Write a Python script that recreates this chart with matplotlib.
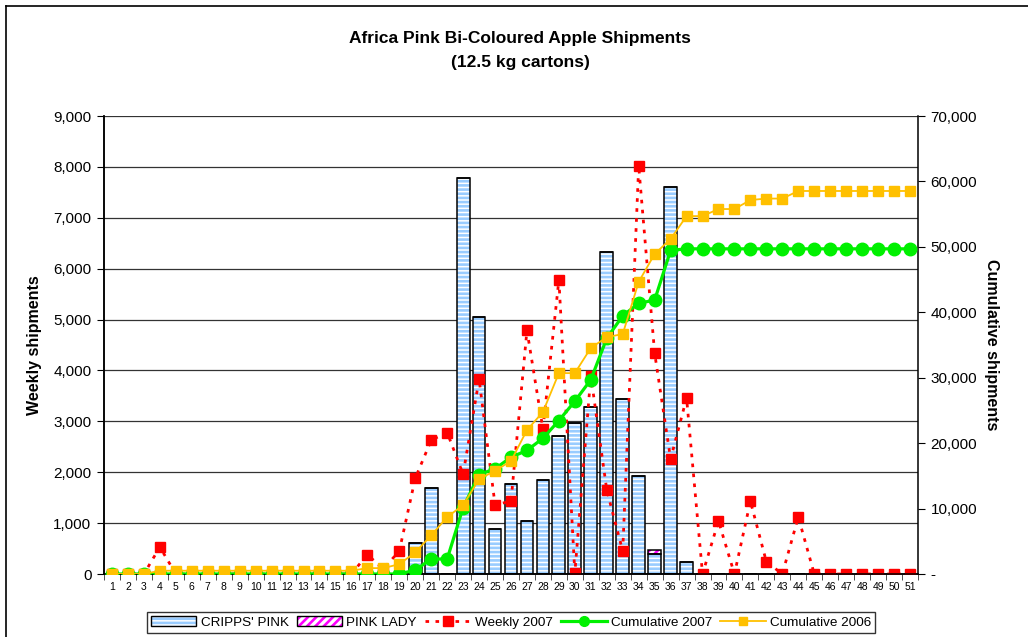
import matplotlib
matplotlib.use("Agg")
import matplotlib.pyplot as plt
from matplotlib.patches import Rectangle
from matplotlib.lines import Line2D
from matplotlib.ticker import FuncFormatter, MultipleLocator

plt.rcParams["font.family"] = ["Liberation Sans", "DejaVu Sans"]

# ---------------------------------------------------------
# data
# ---------------------------------------------------------
weeks = list(range(1, 52))

cripps_pink = [0] * 19 + [600, 1690, 0, 7780, 5050, 880, 1770, 1040, 1850, 2710,
                          2960, 3280, 6330, 3440, 1920, 400, 7600, 240] + [0] * 14
pink_lady = [0] * 34 + [80] + [0] * 16

weekly_2007 = [0, 0, 0, 530, 0, 0, 0, 0, 0, 0, 0, 0, 0, 0, 0, 0, 380, 100, 450,
               1880, 2630, 2780, 1960, 3830, 1360, 1430, 4790, 2850, 5780, 20,
               3900, 1650, 450, 8020, 4340, 2260, 3460, 0, 1040, 0, 1430, 240, 0,
               1120, 0, 0, 0, 0, 0, 0, 0]

cum_2007 = [0] * 19 + [600, 2290, 2290, 10150, 15200, 16080, 17850, 18890, 20740,
                       23450, 26410, 29690, 36020, 39460, 41380, 41860, 49460] + [49700] * 15

cum_2006 = [0, 0, 0, 500, 500, 500, 500, 500, 500, 500, 500, 500, 500, 500, 500, 500,
            900, 900, 1500, 3300, 5900, 8700, 10540, 14500, 15780, 17260, 22000,
            24760, 30700, 30700, 34550, 36200, 36670, 44650, 48900, 51200, 54700,
            54700, 55780, 55780, 57160, 57380, 57380, 58540, 58540, 58540, 58540,
            58540, 58540, 58540, 58540]

STRIPE_BLUE = "#99CCFF"
RED = "#FF0000"
GREEN = "#00F000"
GOLD = "#FFC000"

fig = plt.figure(figsize=(10.28, 6.37), dpi=100)
ax = fig.add_axes([104 / 1028, 63 / 637, 814 / 1028, 458 / 637])
ax2 = ax.twinx()

# --- bars: striped fill, then black outline on top ---
plt.rcParams["hatch.linewidth"] = 1.9
ax.bar(weeks, cripps_pink, width=0.8, color="white", edgecolor=STRIPE_BLUE,
       hatch="----", linewidth=0, zorder=2)
ax.bar(weeks, pink_lady, width=0.8, bottom=cripps_pink, color="white",
       edgecolor="#FF00FF", hatch="////", linewidth=0, zorder=2)
ax.bar(weeks, cripps_pink, width=0.8, fill=False, edgecolor="black", linewidth=1.1, zorder=3)
ax.bar(weeks, pink_lady, width=0.8, bottom=cripps_pink, fill=False,
       edgecolor="black", linewidth=1.1, zorder=3)

# --- weekly 2007 (left axis) ---
ax.plot(weeks, weekly_2007, color=RED, linestyle=(0, (1.3, 2.3)), linewidth=2,
        marker="s", markersize=6.5, markeredgecolor=RED, zorder=4)

# --- cumulative lines (right axis) ---
ax2.plot(weeks, cum_2007, color=GREEN, linewidth=2.3, marker="o", markersize=9,
         markeredgecolor=GREEN, zorder=3)
ax2.plot(weeks, cum_2006, color=GOLD, linewidth=1.3, marker="s", markersize=7,
         markeredgecolor=GOLD, zorder=4)

# --- axes styling ---
ax.set_xlim(0.5, 51.5)
ax.set_ylim(0, 9000)
ax2.set_ylim(0, 70000)

ax.yaxis.set_major_locator(MultipleLocator(1000))
ax2.yaxis.set_major_locator(MultipleLocator(10000))
ax.yaxis.set_major_formatter(FuncFormatter(lambda v, p: f"{int(v):,}"))
ax2.yaxis.set_major_formatter(FuncFormatter(lambda v, p: "-" if v == 0 else f"{int(v):,}"))

ax.grid(axis="y", color="#333333", linewidth=0.9, zorder=0)
ax.set_axisbelow(True)

ax.set_xticks(weeks)
ax.set_xticklabels([str(w) for w in weeks], fontsize=7.5)
ax.set_xticks([w + 0.5 for w in range(0, 52)], minor=True)
ax.tick_params(axis="x", which="major", length=0, pad=6)
ax.tick_params(axis="x", which="minor", length=4, direction="out", color="#333333")
ax.tick_params(axis="y", labelsize=11, length=5, direction="out", pad=4)
ax2.tick_params(axis="y", labelsize=11, length=5, direction="out", pad=4)

for a in (ax, ax2):
    a.spines["top"].set_visible(False)
    for s in ("left", "right", "bottom"):
        a.spines[s].set_linewidth(1.1)
ax.spines["right"].set_visible(False)

ax.set_ylabel("Weekly shipments", fontsize=11.5, fontweight="bold", labelpad=8)
ax2.set_ylabel("Cumulative shipments", fontsize=11.5, fontweight="bold",
               rotation=-90, labelpad=16)

fig.text(0.506, 0.940, "Africa Pink Bi-Coloured Apple Shipments", ha="center",
         va="center", fontsize=12.5, fontweight="bold")
fig.text(0.506, 0.902, "(12.5 kg cartons)", ha="center", va="center",
         fontsize=12.5, fontweight="bold")

# --- legend ---
h_cp = (Rectangle((0, 0), 1, 1, facecolor="white", edgecolor=STRIPE_BLUE, hatch="----", linewidth=0),
        Rectangle((0, 0), 1, 1, fill=False, edgecolor="black", linewidth=1))
h_pl = (Rectangle((0, 0), 1, 1, facecolor="white", edgecolor="#FF00FF", hatch="////", linewidth=0),
        Rectangle((0, 0), 1, 1, fill=False, edgecolor="black", linewidth=1))
h_w = Line2D([], [], color=RED, linestyle=(0, (1.3, 2.3)), linewidth=2, marker="s",
             markersize=6.5)
h_c7 = Line2D([], [], color=GREEN, linewidth=2.3, marker="o", markersize=7)
h_c6 = Line2D([], [], color=GOLD, linewidth=1.3, marker="s", markersize=6)
leg = fig.legend([h_cp, h_pl, h_w, h_c7, h_c6],
                 ["CRIPPS' PINK", "PINK LADY", "Weekly 2007", "Cumulative 2007", "Cumulative 2006"],
                 loc="center", bbox_to_anchor=(0.497, 0.023), ncol=5, fontsize=9.7,
                 frameon=True, fancybox=False, edgecolor="black", handlelength=3.4,
                 handletextpad=0.3, columnspacing=0.6, borderpad=0.3)
leg.get_frame().set_linewidth(1)

# outer chart border (top and left visible in the reference)
fig.add_artist(Line2D([6 / 1028, 6 / 1028], [0, 1 - 6 / 637], color="black",
                      linewidth=1.2, transform=fig.transFigure))
fig.add_artist(Line2D([6 / 1028, 1], [1 - 6 / 637, 1 - 6 / 637], color="black",
                      linewidth=1.2, transform=fig.transFigure))

fig.savefig("out.png", dpi=100, facecolor="white")
